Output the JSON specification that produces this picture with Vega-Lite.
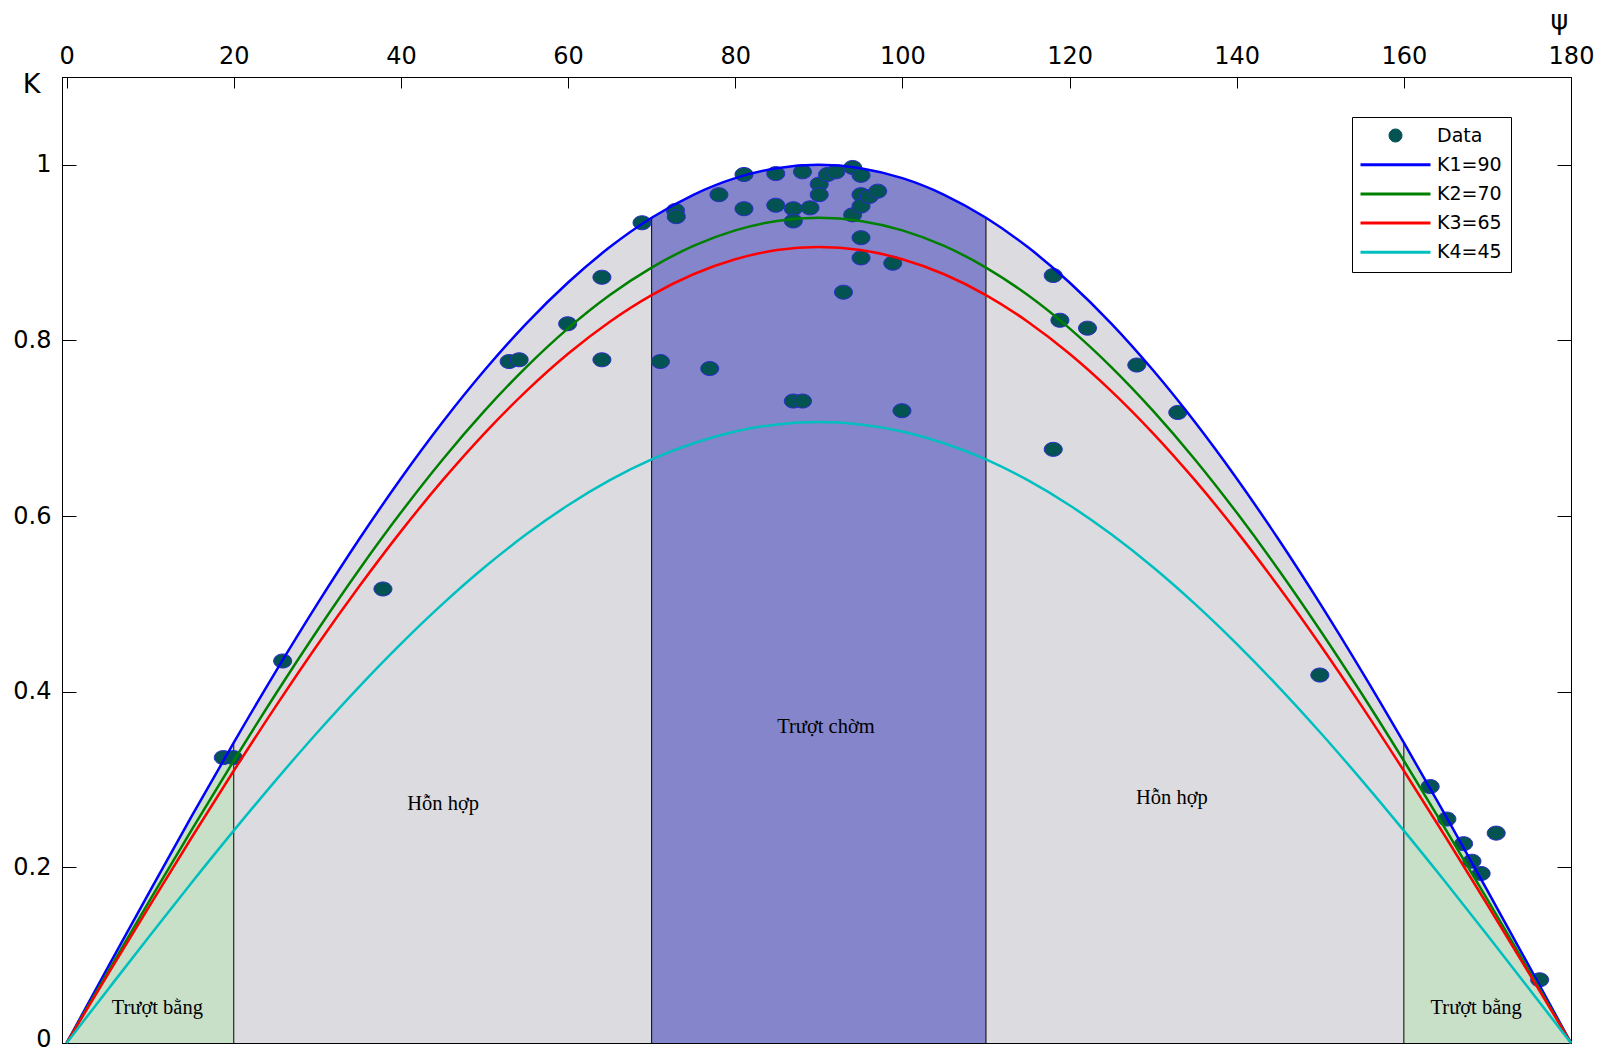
{
  "$schema": "https://vega.github.io/schema/vega-lite/v6.json",
  "width": 1509,
  "height": 966,
  "autosize": {"type": "none"},
  "padding": {"left": 62, "top": 77, "right": 44, "bottom": 11},
  "background": "white",
  "config": {
    "view": {"stroke": "black", "strokeWidth": 1},
    "axis": {"grid": false, "domainColor": "black", "tickColor": "black", "labelColor": "black", "labelFont": "DejaVu Sans", "labelFontSize": 24, "tickWidth": 1}
  },
  "datasets": {
    "curves": [
      {"psi": 0, "K1=90": 0, "K2=70": 0, "K3=65": 0, "K4=45": 0},
      {"psi": 5, "K1=90": 0.0872, "K2=70": 0.0819, "K3=65": 0.0790, "K4=45": 0.0616},
      {"psi": 10, "K1=90": 0.1736, "K2=70": 0.1632, "K3=65": 0.1574, "K4=45": 0.1228},
      {"psi": 15, "K1=90": 0.2588, "K2=70": 0.2432, "K3=65": 0.2346, "K4=45": 0.1830},
      {"psi": 20, "K1=90": 0.3420, "K2=70": 0.3214, "K3=65": 0.3100, "K4=45": 0.2418},
      {"psi": 25, "K1=90": 0.4226, "K2=70": 0.3971, "K3=65": 0.3830, "K4=45": 0.2988},
      {"psi": 30, "K1=90": 0.5, "K2=70": 0.4698, "K3=65": 0.4532, "K4=45": 0.3536},
      {"psi": 35, "K1=90": 0.5736, "K2=70": 0.5390, "K3=65": 0.5198, "K4=45": 0.4056},
      {"psi": 40, "K1=90": 0.6428, "K2=70": 0.6040, "K3=65": 0.5826, "K4=45": 0.4545},
      {"psi": 45, "K1=90": 0.7071, "K2=70": 0.6645, "K3=65": 0.6409, "K4=45": 0.5},
      {"psi": 50, "K1=90": 0.7660, "K2=70": 0.7198, "K3=65": 0.6943, "K4=45": 0.5417},
      {"psi": 55, "K1=90": 0.8192, "K2=70": 0.7697, "K3=65": 0.7424, "K4=45": 0.5792},
      {"psi": 60, "K1=90": 0.8660, "K2=70": 0.8138, "K3=65": 0.7849, "K4=45": 0.6124},
      {"psi": 65, "K1=90": 0.9063, "K2=70": 0.8517, "K3=65": 0.8214, "K4=45": 0.6409},
      {"psi": 70, "K1=90": 0.9397, "K2=70": 0.8830, "K3=65": 0.8517, "K4=45": 0.6645},
      {"psi": 75, "K1=90": 0.9659, "K2=70": 0.9077, "K3=65": 0.8754, "K4=45": 0.6830},
      {"psi": 80, "K1=90": 0.9848, "K2=70": 0.9254, "K3=65": 0.8925, "K4=45": 0.6964},
      {"psi": 85, "K1=90": 0.9962, "K2=70": 0.9361, "K3=65": 0.9029, "K4=45": 0.7044},
      {"psi": 90, "K1=90": 1, "K2=70": 0.9397, "K3=65": 0.9063, "K4=45": 0.7071},
      {"psi": 95, "K1=90": 0.9962, "K2=70": 0.9361, "K3=65": 0.9029, "K4=45": 0.7044},
      {"psi": 100, "K1=90": 0.9848, "K2=70": 0.9254, "K3=65": 0.8925, "K4=45": 0.6964},
      {"psi": 105, "K1=90": 0.9659, "K2=70": 0.9077, "K3=65": 0.8754, "K4=45": 0.6830},
      {"psi": 110, "K1=90": 0.9397, "K2=70": 0.8830, "K3=65": 0.8517, "K4=45": 0.6645},
      {"psi": 115, "K1=90": 0.9063, "K2=70": 0.8517, "K3=65": 0.8214, "K4=45": 0.6409},
      {"psi": 120, "K1=90": 0.8660, "K2=70": 0.8138, "K3=65": 0.7849, "K4=45": 0.6124},
      {"psi": 125, "K1=90": 0.8192, "K2=70": 0.7697, "K3=65": 0.7424, "K4=45": 0.5792},
      {"psi": 130, "K1=90": 0.7660, "K2=70": 0.7198, "K3=65": 0.6943, "K4=45": 0.5417},
      {"psi": 135, "K1=90": 0.7071, "K2=70": 0.6645, "K3=65": 0.6409, "K4=45": 0.5},
      {"psi": 140, "K1=90": 0.6428, "K2=70": 0.6040, "K3=65": 0.5826, "K4=45": 0.4545},
      {"psi": 145, "K1=90": 0.5736, "K2=70": 0.5390, "K3=65": 0.5198, "K4=45": 0.4056},
      {"psi": 150, "K1=90": 0.5, "K2=70": 0.4698, "K3=65": 0.4532, "K4=45": 0.3536},
      {"psi": 155, "K1=90": 0.4226, "K2=70": 0.3971, "K3=65": 0.3830, "K4=45": 0.2988},
      {"psi": 160, "K1=90": 0.3420, "K2=70": 0.3214, "K3=65": 0.3100, "K4=45": 0.2418},
      {"psi": 165, "K1=90": 0.2588, "K2=70": 0.2432, "K3=65": 0.2346, "K4=45": 0.1830},
      {"psi": 170, "K1=90": 0.1736, "K2=70": 0.1632, "K3=65": 0.1574, "K4=45": 0.1228},
      {"psi": 175, "K1=90": 0.0872, "K2=70": 0.0819, "K3=65": 0.0790, "K4=45": 0.0616},
      {"psi": 180, "K1=90": 0, "K2=70": 0, "K3=65": 0, "K4=45": 0}
    ],
    "points": [
      {"psi": 18.75, "K": 0.325}, {"psi": 19.95, "K": 0.325}, {"psi": 25.85, "K": 0.435}, {"psi": 37.85, "K": 0.517},
      {"psi": 52.95, "K": 0.776}, {"psi": 54.15, "K": 0.778}, {"psi": 59.95, "K": 0.819}, {"psi": 64.05, "K": 0.872},
      {"psi": 64.05, "K": 0.778}, {"psi": 68.85, "K": 0.934}, {"psi": 71.05, "K": 0.776}, {"psi": 72.85, "K": 0.948},
      {"psi": 72.95, "K": 0.941}, {"psi": 76.95, "K": 0.768}, {"psi": 78.05, "K": 0.966}, {"psi": 81.05, "K": 0.989},
      {"psi": 81.05, "K": 0.950}, {"psi": 84.85, "K": 0.990}, {"psi": 84.85, "K": 0.954}, {"psi": 86.95, "K": 0.950},
      {"psi": 86.95, "K": 0.936}, {"psi": 86.95, "K": 0.731}, {"psi": 88.05, "K": 0.731}, {"psi": 88.05, "K": 0.992},
      {"psi": 88.95, "K": 0.951}, {"psi": 90.05, "K": 0.978}, {"psi": 90.05, "K": 0.966}, {"psi": 91.05, "K": 0.989},
      {"psi": 92.05, "K": 0.992}, {"psi": 92.95, "K": 0.855}, {"psi": 94.05, "K": 0.997}, {"psi": 94.05, "K": 0.943},
      {"psi": 95.05, "K": 0.988}, {"psi": 95.05, "K": 0.966}, {"psi": 95.05, "K": 0.953}, {"psi": 95.05, "K": 0.917},
      {"psi": 95.05, "K": 0.894}, {"psi": 96.05, "K": 0.964}, {"psi": 97.05, "K": 0.970}, {"psi": 98.85, "K": 0.888},
      {"psi": 99.95, "K": 0.720}, {"psi": 118.05, "K": 0.874}, {"psi": 118.85, "K": 0.823}, {"psi": 122.15, "K": 0.814},
      {"psi": 128.05, "K": 0.772}, {"psi": 132.95, "K": 0.718}, {"psi": 118.05, "K": 0.676}, {"psi": 149.95, "K": 0.419},
      {"psi": 163.15, "K": 0.292}, {"psi": 165.15, "K": 0.255}, {"psi": 167.15, "K": 0.227}, {"psi": 168.15, "K": 0.207},
      {"psi": 169.25, "K": 0.193}, {"psi": 171.05, "K": 0.239}, {"psi": 176.25, "K": 0.072}
    ],
    "bounds": [
      {"psi": 20, "K": 0.3420}, {"psi": 70, "K": 0.9397}, {"psi": 110, "K": 0.9397}, {"psi": 160, "K": 0.3420}
    ],
    "labels": [
      {"label": "Trượt bằng", "psi": 10.85, "K": 0.04},
      {"label": "Hỗn hợp", "psi": 45.05, "K": 0.272},
      {"label": "Trượt chờm", "psi": 90.85, "K": 0.36},
      {"label": "Hỗn hợp", "psi": 132.25, "K": 0.279},
      {"label": "Trượt bằng", "psi": 168.65, "K": 0.04}
    ]
  },
  "layer": [
    {
      "data": {"name": "curves"},
      "transform": [{"filter": {"field": "psi", "range": [0, 20]}}],
      "mark": {"type": "area", "color": "#c8dfc8", "interpolate": "monotone"},
      "encoding": {
        "x": {"field": "psi", "type": "quantitative", "scale": {"domain": [-0.55, 180], "nice": false, "zero": false},
          "axis": {"orient": "top", "values": [0, 20, 40, 60, 80, 100, 120, 140, 160, 180], "tickSize": -11, "labelPadding": 20, "labelFlush": false,
            "title": "ψ", "titleX": 1497, "titleY": -57, "titleFontSize": 27, "titleFont": "DejaVu Sans", "titleFontWeight": "normal", "titleAlign": "center", "titleBaseline": "middle", "titleAngle": 0}},
        "y": {"field": "K1=90", "type": "quantitative", "scale": {"domain": [0, 1.1], "nice": false},
          "axis": {"orient": "left", "values": [0, 0.2, 0.4, 0.6, 0.8, 1], "tickSize": -14, "labelPadding": 25, "labelExpr": "format(datum.value, '~g')",
            "labelOffset": {"condition": {"test": "datum.value === 0", "value": -4}, "value": 0},
            "title": "K", "titleAngle": 0, "titleX": -31, "titleY": 7, "titleFontSize": 27, "titleFont": "DejaVu Sans", "titleFontWeight": "normal", "titleAlign": "center", "titleBaseline": "middle"}}
      }
    },
    {
      "data": {"name": "curves"},
      "transform": [{"filter": {"field": "psi", "range": [20, 70]}}],
      "mark": {"type": "area", "color": "#dcdce0", "interpolate": "monotone"},
      "encoding": {
        "x": {"field": "psi", "type": "quantitative"},
        "y": {"field": "K1=90", "type": "quantitative", "axis": null}
      }
    },
    {
      "data": {"name": "curves"},
      "transform": [{"filter": {"field": "psi", "range": [70, 110]}}],
      "mark": {"type": "area", "color": "#8585cc", "interpolate": "monotone"},
      "encoding": {
        "x": {"field": "psi", "type": "quantitative"},
        "y": {"field": "K1=90", "type": "quantitative", "axis": null}
      }
    },
    {
      "data": {"name": "curves"},
      "transform": [{"filter": {"field": "psi", "range": [110, 160]}}],
      "mark": {"type": "area", "color": "#dcdce0", "interpolate": "monotone"},
      "encoding": {
        "x": {"field": "psi", "type": "quantitative"},
        "y": {"field": "K1=90", "type": "quantitative", "axis": null}
      }
    },
    {
      "data": {"name": "curves"},
      "transform": [{"filter": {"field": "psi", "range": [160, 180]}}],
      "mark": {"type": "area", "color": "#c8dfc8", "interpolate": "monotone"},
      "encoding": {
        "x": {"field": "psi", "type": "quantitative"},
        "y": {"field": "K1=90", "type": "quantitative", "axis": null}
      }
    },
    {
      "data": {"name": "bounds"},
      "mark": {"type": "rule", "color": "black", "strokeWidth": 1},
      "encoding": {
        "x": {"field": "psi", "type": "quantitative"},
        "y": {"field": "K", "type": "quantitative",
          "axis": {"orient": "right", "values": [0, 0.2, 0.4, 0.6, 0.8, 1], "tickSize": -14, "labels": false, "title": null, "domain": false}},
        "y2": {"datum": 0}
      }
    },
    {
      "data": {"name": "labels"},
      "mark": {"type": "text", "font": "Liberation Serif", "fontSize": 20.5, "color": "black", "align": "center", "baseline": "middle"},
      "encoding": {
        "x": {"field": "psi", "type": "quantitative"},
        "y": {"field": "K", "type": "quantitative", "axis": null},
        "text": {"field": "label", "type": "nominal"}
      }
    },
    {
      "data": {"name": "points"},
      "mark": {"type": "point", "filled": true, "shape": "M-1,0A1,0.78 0 1,0 1,0A1,0.78 0 1,0 -1,0Z", "size": 324, "stroke": "#2b2bcc", "strokeWidth": 1, "opacity": 1},
      "encoding": {
        "x": {"field": "psi", "type": "quantitative"},
        "y": {"field": "K", "type": "quantitative", "axis": null},
        "color": {"datum": "Data", "type": "nominal",
          "scale": {"domain": ["Data", "K1=90", "K2=70", "K3=65", "K4=45"], "range": ["#045353", "#0000ff", "#008000", "#ff0000", "#00bfbf"]}}
      }
    },
    {
      "data": {"name": "curves"},
      "transform": [{"fold": ["K1=90", "K2=70", "K3=65", "K4=45"], "as": ["series", "K"]}],
      "mark": {"type": "line", "strokeWidth": 2.5, "interpolate": "monotone"},
      "encoding": {
        "x": {"field": "psi", "type": "quantitative"},
        "y": {"field": "K", "type": "quantitative", "axis": null},
        "color": {"field": "series", "type": "nominal",
          "scale": {"domain": ["Data", "K1=90", "K2=70", "K3=65", "K4=45"], "range": ["#045353", "#0000ff", "#008000", "#ff0000", "#00bfbf"]},
          "legend": {"orient": "none", "legendX": 1290, "legendY": 40, "title": null,
            "strokeColor": "black", "fillColor": "white", "padding": 9, "cornerRadius": 0,
            "symbolSize": 400, "symbolType": "M-1,0L6,0", "labelOffset": 57, "labelFontSize": 19, "labelFont": "DejaVu Sans", "labelColor": "black", "rowPadding": 9.2,
            "encode": {"symbols": {"update": {
              "shape": {"signal": "datum.value === 'Data' ? 'M1.85,0A0.65,0.65 0 1,0 3.15,0A0.65,0.65 0 1,0 1.85,0Z' : 'M-1,0L6,0'"},
              "fill": {"signal": "datum.value === 'Data' ? '#045353' : 'transparent'"},
              "stroke": {"signal": "datum.value === 'Data' ? '#2b2bcc' : scale('color', datum.value)"},
              "strokeWidth": {"signal": "datum.value === 'Data' ? 1 : 3"},
              "size": {"value": 400},
              "opacity": {"value": 1}
            }}}}
        }
      }
    }
  ],
  "resolve": {"axis": {"y": "independent"}}
}
